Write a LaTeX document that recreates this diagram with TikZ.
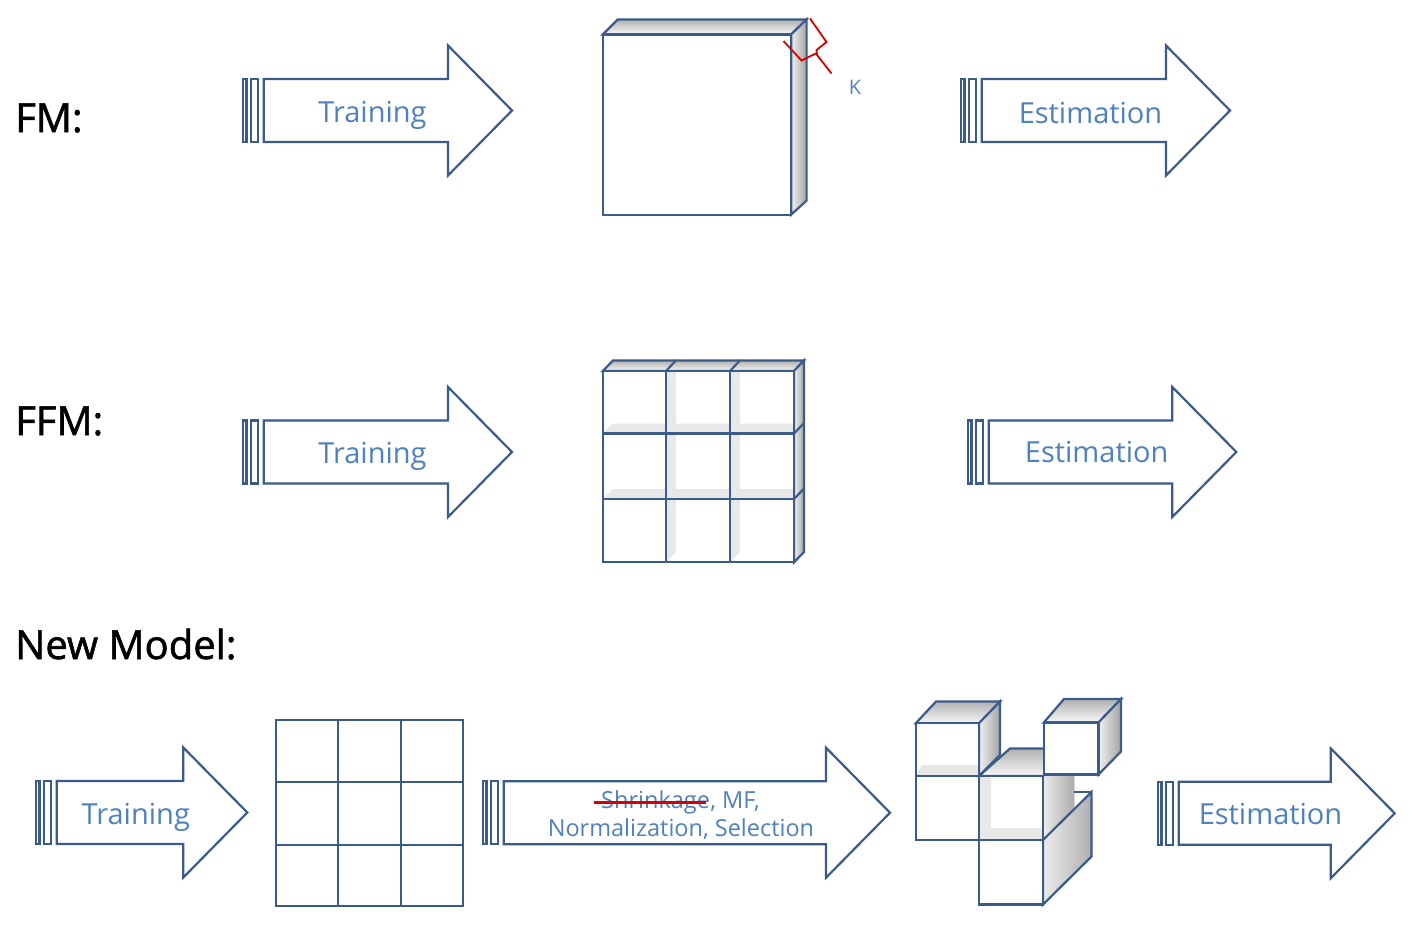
\documentclass[tikz,border=0pt]{standalone}
\usepackage{fontspec}
\setmainfont{Open Sans}
\newfontfamily\lblfont{Open Sans}[BoldFont={Open Sans}, BoldFeatures={FakeBold=1.5}]
\definecolor{olc}{RGB}{59,92,136}
\definecolor{txtc}{RGB}{79,129,189}
\definecolor{strk}{RGB}{215,0,0}
\newcommand{\sarrow}[3]{%
  \draw[ol,fill=white] ({#1+1.2},{#2-31.5}) rectangle ({#1+4.4},{#2+31.5});
  \draw[ol,fill=white] ({#1+9},{#2-31.5}) rectangle ({#1+16},{#2+31.5});
  \draw[ol,fill=white] ({#1+21.8},{#2-31.5}) -- ({#3},{#2-31.5}) -- ({#3},{#2-65})
     -- ({#3+64},{#2}) -- ({#3},{#2+65}) -- ({#3},{#2+31.5}) -- ({#1+21.8},{#2+31.5}) -- cycle;
}
\begin{document}
\begin{tikzpicture}[x=1pt,y=-1pt,
  ol/.style={draw=olc, line width=2.2pt, line join=miter},
  arrtxt/.style={text=txtc, font=\fontsize{29}{34}\selectfont, anchor=base, inner sep=0pt},
  smtxt/.style={text=txtc, font=\fontsize{23.5}{28}\selectfont, inner sep=0pt},
  lbl/.style={font=\lblfont\bfseries\fontsize{40}{48}\selectfont, anchor=base west, inner sep=0pt},
  topface/.style={ol, top color=gray!62, bottom color=gray!5},
  sideface/.style={ol, left color=gray!12, right color=gray!72},
  strip/.style={fill=gray!18},
  redline/.style={draw=strk, line width=1.8pt}]
\useasboundingbox (0,0) rectangle (1410,929);
\fill[white] (0,0) rectangle (1410,929);

% ---------- labels ----------
\node[lbl] (fm) at (15,132) {FM:};
\node[lbl] (ffm) at (15,435) {FFM:};
\node[lbl] (nm) at (15,659) {New Model:};

% ---------- FM row ----------
\sarrow{242}{110.5}{448}
\node[arrtxt] (t1) at (372.5,122.7) {Training};
% cube
\draw[topface] (602.8,34.4) -- (617.8,19.4) -- (806.6,19.4) -- (791.2,34.4) -- cycle;
\draw[sideface] (791.2,34.4) -- (806.6,19.4) -- (806.6,200.6) -- (791.2,214.6) -- cycle;
\draw[ol,fill=white] (602.8,34.4) rectangle (791.2,214.6);
% K bracket
\draw[redline] (810,18.5) -- (826.5,42) -- (816.5,50) -- (817,55) -- (831.5,73.5);
\draw[redline] (783.5,41) -- (801.5,60.5) -- (816.8,53);
\node[text=txtc, font=\fontsize{20}{24}\selectfont, inner sep=0pt] (k) at (855,87) {K};
\sarrow{960}{110.5}{1166}
\node[arrtxt] (e1) at (1090.5,123) {Estimation};

% ---------- FFM row ----------
\sarrow{242}{452}{448}
\node[arrtxt] (t2) at (372.5,463.7) {Training};
% 3x3 cube
\draw[topface] (602.8,371) -- (613,360.4) -- (804,360.4) -- (794,371) -- cycle;
\draw[sideface] (794,371) -- (804,360.4) -- (804,552) -- (794,562.3) -- cycle;
\draw[olc, line width=2.2pt] (666,371) -- (676,360.4) (730,371) -- (740,360.4)
   (794,433.5) -- (804,423) (794,499) -- (804,488.5);
\fill[white] (602.8,371) rectangle (794,562.3);
% inner light strips (vertical)
\foreach \c in {666,730}{
  \foreach \ya/\yb in {371/433.5,433.5/499,499/562.3}{
    \fill[strip] (\c,\ya) -- (\c+10,\ya) -- (\c+10,\yb-10) -- (\c,\yb) -- cycle;
  }
}
% inner light strips (horizontal)
\foreach \b in {433.5,499}{
  \foreach \xa/\xb in {602.8/666,666/730,730/794}{
    \fill[strip] (\xa,\b) -- (\xa+10,\b-10) -- (\xb,\b-10) -- (\xb,\b) -- cycle;
  }
}
\draw[ol] (602.8,371) rectangle (794,562.3);
\draw[olc, line width=2.2pt] (666,371) -- (666,562.3) (730,371) -- (730,562.3)
   (602.8,433.5) -- (794,433.5) (602.8,499) -- (794,499);
\sarrow{967}{452}{1172.3}
\node[arrtxt] (e2) at (1096.7,462.7) {Estimation};

% ---------- New model row ----------
\sarrow{35}{812.5}{183.3}
\node[arrtxt] (t3) at (135.8,824) {Training};
% grid
\draw[ol] (276,720) rectangle (463,906);
\draw[olc, line width=2.2pt] (338,720) -- (338,906) (401,720) -- (401,906)
   (276,782) -- (463,782) (276,845) -- (463,845);
% long arrow
\sarrow{482}{812.7}{826}
\node[smtxt, anchor=base west] (shr) at (601,808.3) {Shrinkage};
\node[smtxt, anchor=base west] (mf) at (shr.base east) {, MF,};
\node[smtxt, anchor=base] (nrm) at (681,836.7) {Normalization, Selection};
\draw[draw=strk, line width=2.6pt] ([shift={(-7,-6)}]shr.base west) -- ([shift={(-4,-6)}]shr.base east);
% cube cluster
% A
\draw[topface] (915.8,723.2) -- (936,701.5) -- (1000,701.5) -- (979,723.2) -- cycle;
\draw[sideface] (979,723.2) -- (1000,701.5) -- (1000,755) -- (979,776) -- cycle;
\fill[white] (915.8,723.2) rectangle (979,776);
\fill[strip] (915.8,776) -- (922,765) -- (979,765) -- (979,776) -- cycle;
\draw[ol] (915.8,723.2) rectangle (979,776);
% B
\draw[ol,fill=white] (915.8,776) rectangle (979,840);
% C right (partly hidden)
\fill[left color=gray!15, right color=gray!65] (1043,776) -- (1074,748.5) -- (1074,812) -- (1043,840) -- cycle;
% C top
\draw[topface] (979,776) -- (1010,748.5) -- (1074,748.5) -- (1043,776) -- cycle;
% E right
\draw[ol, left color=gray!15, right color=gray!62] (1043,840) -- (1091.5,792) -- (1091.5,856.5) -- (1043,904.5) -- cycle;
\draw[olc, line width=2.2pt] (1074,792) -- (1091.5,792);
% E front
\draw[ol,fill=white] (979,840) rectangle (1043,904.5);
% C front with inner strips
\fill[white] (979,776) rectangle (1043,840);
\fill[strip] (979,776) -- (991,778) -- (991,828) -- (979,840) -- cycle;
\fill[strip] (979,840) -- (991,828) -- (1043,828) -- (1043,840) -- cycle;
\draw[ol] (979,776) rectangle (1043,840);
% D
\draw[topface] (1043.8,722.5) -- (1064,699) -- (1121,699) -- (1098.5,722.5) -- cycle;
\draw[sideface] (1098.5,722.5) -- (1121,699) -- (1121,751.5) -- (1098.5,774.5) -- cycle;
\draw[ol,fill=white] (1043.8,722.5) rectangle (1098.5,774.5);
% estimation
\sarrow{1157}{813.3}{1330.7}
\node[arrtxt] (e3) at (1270.5,824.3) {Estimation};
\end{tikzpicture}
\end{document}
